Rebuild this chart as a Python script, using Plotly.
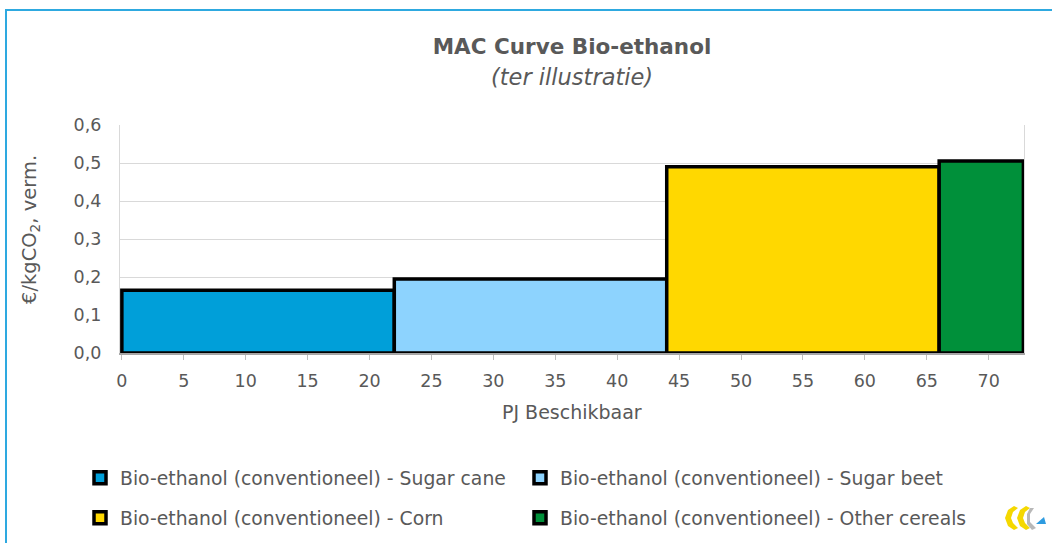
import plotly.graph_objects as go

categories = [
    "Bio-ethanol (conventioneel) - Sugar cane",
    "Bio-ethanol (conventioneel) - Sugar beet",
    "Bio-ethanol (conventioneel) - Corn",
    "Bio-ethanol (conventioneel) - Other cereals",
]
pj_available = [22.0, 22.0, 22.0, 6.8]      # width of each block (PJ)
cost = [0.165, 0.195, 0.49, 0.505]          # €/kgCO2
colors = ["#009FD9", "#8DD3FE", "#FFD800", "#00903A"]
x_ticks = list(range(0, 75, 5))
y_ticks = [0, 0.1, 0.2, 0.3, 0.4, 0.5, 0.6]

W, H = 1052, 543
ML, MR, MT, MB = 120, 28, 125, 190
pw = W - ML - MR
ph = H - MT - MB

def px(x):
    return (x - ML) / pw

def py(y):
    return (H - MB - y) / ph

def cx(x):
    return x / W

def cy(y):
    return (H - y) / H

legend_ids = ["legend", "legend2", "legend3", "legend4"]
legend_pos = [(80, 478), (520, 478), (80, 518), (520, 518)]

fig = go.Figure()
start = 0.0
for i, (name, w, c, col) in enumerate(zip(categories, pj_available, cost, colors)):
    fig.add_trace(go.Bar(
        x=[start + w / 2], y=[c], width=[w], name=name,
        marker=dict(color=col, line=dict(color="black", width=3.5)),
        legend=legend_ids[i],
        hovertemplate="%{y}<extra>" + name + "</extra>",
    ))
    start += w

font_family = "DejaVu Sans, Open Sans, sans-serif"
gray = "#595959"
FS = 17.5

legend_common = dict(
    orientation="h", xanchor="left", yanchor="middle",
    xref="container", yref="container",
    font=dict(size=18.8, color=gray, family=font_family),
    itemwidth=30,
    bgcolor="rgba(0,0,0,0)", traceorder="normal",
)

legends = {lid: dict(x=cx(lx), y=cy(ly), **legend_common)
           for lid, (lx, ly) in zip(legend_ids, legend_pos)}

fig.update_layout(
    width=W, height=H,
    margin=dict(l=ML, r=MR, t=MT, b=MB, autoexpand=False),
    paper_bgcolor="white", plot_bgcolor="white",
    separators=", ",
    barmode="overlay",
    font=dict(family=font_family, color=gray),
    title=dict(
        text="<b>MAC Curve Bio-ethanol</b>",
        x=0.5, xref="paper", xanchor="center",
        y=1 - 46 / H, yanchor="middle",
        font=dict(size=21.5, color=gray, family=font_family),
    ),
    xaxis=dict(
        range=[-0.15, 72.85], tickvals=x_ticks, ticks="outside", ticklen=5,
        tickcolor="#bfbfbf", showline=True, linecolor="#a6a6a6", linewidth=1.5,
        showgrid=False, zeroline=False, ticklabelstandoff=6,
        tickfont=dict(size=FS, color=gray),
    ),
    yaxis=dict(
        range=[0, 0.6], tickvals=y_ticks, tickformat=".1f",
        showgrid=True, gridcolor="#d9d9d9", gridwidth=1.3,
        showline=True, linecolor="#d9d9d9", mirror=True, linewidth=1.3,
        zeroline=False, ticks="", ticklabelstandoff=14,
        tickfont=dict(size=FS, color=gray),
    ),
    showlegend=True,
    **legends,
)

# subtitle and axis titles
fig.add_annotation(text="<i>(ter illustratie)</i>", xref="paper", yref="paper",
                   x=0.5, y=py(77), xanchor="center", yanchor="middle", showarrow=False,
                   font=dict(size=22.5, color=gray, family=font_family))
fig.add_annotation(text="PJ Beschikbaar", xref="paper", yref="paper",
                   x=px(572), y=py(412), xanchor="center", yanchor="middle", showarrow=False,
                   font=dict(size=19, color=gray, family=font_family))
fig.add_annotation(text="€/kgCO<sub>2</sub>, verm.", xref="paper", yref="paper",
                   x=px(30), y=py(230), xanchor="center", yanchor="middle", showarrow=False,
                   textangle=-90, font=dict(size=19.5, color=gray, family=font_family))

# outer chart frame
fig.add_shape(type="rect", xref="paper", yref="paper",
              x0=px(6), y0=py(H + 5), x1=px(W + 5), y1=py(10),
              line=dict(color="#2EA9E0", width=2), fillcolor="rgba(0,0,0,0)", layer="below")

# small logo at bottom right
def path(points):
    s = "M " + " L ".join(f"{px(a)},{py(b)}" for a, b in points) + " Z"
    return s

logo_yellow1 = [(1014, 506), (1008, 510), (1005, 518), (1008, 526), (1014, 530), (1018, 528), (1013, 523), (1011, 518), (1013, 512), (1018, 508)]
logo_yellow2 = [(1026, 506), (1020, 510), (1017, 518), (1020, 526), (1026, 530), (1030, 528), (1025, 523), (1023, 518), (1025, 512), (1030, 508)]
logo_gray = [(1030, 508), (1034, 508), (1030, 514), (1030, 522), (1036, 528), (1032, 530), (1027, 524), (1027, 514)]
logo_blue = [(1036, 524), (1044, 517), (1046, 524)]
for pts, col in [(logo_yellow1, "#F5D800"), (logo_yellow2, "#F5D800"), (logo_gray, "#B8B8B8"), (logo_blue, "#2E9BE0")]:
    fig.add_shape(type="path", xref="paper", yref="paper", path=path(pts),
                  fillcolor=col, line=dict(width=0))

fig.write_html("out.html", config={"displayModeBar": False},
               post_script="document.body.style.margin='0';document.body.style.overflow='hidden';")
